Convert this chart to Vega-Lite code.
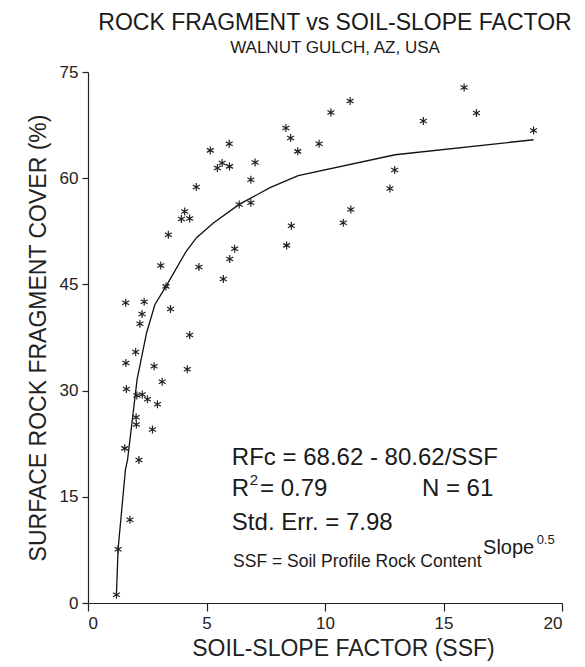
{
  "$schema": "https://vega.github.io/schema/vega-lite/v6.json",
  "width": 474,
  "height": 531,
  "autosize": "none",
  "padding": {"left": 88, "top": 72, "right": 23, "bottom": 64},
  "background": "white",
  "config": {
    "view": {"stroke": null},
    "font": "Liberation Sans",
    "axis": {"grid": false, "domainColor": "#222", "tickColor": "#222", "labelColor": "#222", "titleColor": "#222", "labelFont": "Liberation Sans", "titleFont": "Liberation Sans", "titleFontWeight": "normal", "domainWidth": 1.2, "tickWidth": 1.2}
  },
  "title": {
    "text": "ROCK FRAGMENT vs SOIL-SLOPE FACTOR",
    "subtitle": "WALNUT GULCH, AZ, USA",
    "font": "Liberation Sans",
    "subtitleFont": "Liberation Sans",
    "fontSize": 23,
    "subtitleFontSize": 17,
    "fontWeight": "normal",
    "color": "#1a1a1a",
    "subtitleColor": "#1a1a1a",
    "anchor": "middle",
    "dx": 10,
    "offset": 7,
    "subtitlePadding": 5
  },
  "datasets": {
    "obs": [
      {"ssf": 5.96, "rfc": 64.87}, {"ssf": 5.16, "rfc": 63.93}, {"ssf": 5.66, "rfc": 62.15}, {"ssf": 5.46, "rfc": 61.44},
      {"ssf": 5.97, "rfc": 61.67}, {"ssf": 7.05, "rfc": 62.23}, {"ssf": 6.87, "rfc": 59.79}, {"ssf": 4.57, "rfc": 58.76},
      {"ssf": 6.38, "rfc": 56.3}, {"ssf": 6.87, "rfc": 56.54}, {"ssf": 4.08, "rfc": 55.31}, {"ssf": 3.94, "rfc": 54.24},
      {"ssf": 4.29, "rfc": 54.31}, {"ssf": 3.39, "rfc": 52.02}, {"ssf": 6.19, "rfc": 50.04}, {"ssf": 5.98, "rfc": 48.59},
      {"ssf": 3.07, "rfc": 47.68}, {"ssf": 4.68, "rfc": 47.46}, {"ssf": 5.71, "rfc": 45.76}, {"ssf": 3.29, "rfc": 44.72},
      {"ssf": 1.59, "rfc": 42.42}, {"ssf": 2.37, "rfc": 42.56}, {"ssf": 2.28, "rfc": 40.83}, {"ssf": 3.48, "rfc": 41.53},
      {"ssf": 2.19, "rfc": 39.45}, {"ssf": 4.29, "rfc": 37.85}, {"ssf": 2.01, "rfc": 35.45}, {"ssf": 1.6, "rfc": 33.91},
      {"ssf": 2.79, "rfc": 33.45}, {"ssf": 4.19, "rfc": 33.02}, {"ssf": 3.13, "rfc": 31.26}, {"ssf": 1.62, "rfc": 30.24},
      {"ssf": 2.06, "rfc": 29.31}, {"ssf": 2.29, "rfc": 29.45}, {"ssf": 2.51, "rfc": 28.77}, {"ssf": 2.93, "rfc": 28.08},
      {"ssf": 2.03, "rfc": 26.24}, {"ssf": 2.04, "rfc": 25.21}, {"ssf": 2.72, "rfc": 24.51}, {"ssf": 1.55, "rfc": 21.84},
      {"ssf": 2.15, "rfc": 20.2}, {"ssf": 1.77, "rfc": 11.77}, {"ssf": 1.27, "rfc": 7.6}, {"ssf": 1.2, "rfc": 1.17},
      {"ssf": 15.87, "rfc": 72.82}, {"ssf": 16.39, "rfc": 69.21}, {"ssf": 14.15, "rfc": 68.08}, {"ssf": 18.8, "rfc": 66.75},
      {"ssf": 11.06, "rfc": 70.9}, {"ssf": 10.25, "rfc": 69.29}, {"ssf": 8.35, "rfc": 67.09}, {"ssf": 8.55, "rfc": 65.68},
      {"ssf": 8.85, "rfc": 63.79}, {"ssf": 9.75, "rfc": 64.87}, {"ssf": 12.94, "rfc": 61.16}, {"ssf": 12.74, "rfc": 58.56},
      {"ssf": 11.09, "rfc": 55.59}, {"ssf": 10.77, "rfc": 53.72}, {"ssf": 8.58, "rfc": 53.29}, {"ssf": 8.38, "rfc": 50.51}
    ],
    "fit": [
      {"ssf": 1.2, "rfc": 1.17}, {"ssf": 1.27, "rfc": 7.63}, {"ssf": 1.58, "rfc": 18.83}, {"ssf": 1.67, "rfc": 20.24},
      {"ssf": 1.98, "rfc": 28.95}, {"ssf": 2.07, "rfc": 31.54}, {"ssf": 2.47, "rfc": 38.14}, {"ssf": 2.82, "rfc": 42.13},
      {"ssf": 3.29, "rfc": 44.72}, {"ssf": 4.13, "rfc": 49.6}, {"ssf": 4.58, "rfc": 51.6}, {"ssf": 5.29, "rfc": 53.67},
      {"ssf": 6.38, "rfc": 56.3}, {"ssf": 7.68, "rfc": 58.66}, {"ssf": 8.87, "rfc": 60.35}, {"ssf": 12.96, "rfc": 63.31},
      {"ssf": 18.8, "rfc": 65.43}
    ]
  },
  "layer": [
    {
      "data": {"name": "fit"},
      "mark": {"type": "line", "color": "#111", "strokeWidth": 1.3},
      "encoding": {
        "x": {"field": "ssf", "type": "quantitative", "scale": {"domain": [0, 20], "nice": false},
              "axis": {"values": [0, 5, 10, 15, 20], "tickSize": 8, "labelFontSize": 17, "labelPadding": 4, "titleFontSize": 23, "titlePadding": 6, "titleX": 255},
              "title": "SOIL-SLOPE FACTOR (SSF)"},
        "y": {"field": "rfc", "type": "quantitative", "scale": {"domain": [0, 75], "nice": false},
              "axis": {"values": [0, 15, 30, 45, 60, 75], "tickSize": 6, "labelFontSize": 17, "labelPadding": 4, "titleFontSize": 23, "titlePadding": 9},
              "title": "SURFACE ROCK FRAGMENT COVER (%)"},
        "order": {"field": "ssf"}
      }
    },
    {
      "data": {"name": "obs"},
      "mark": {"type": "point", "shape": "M0,-1L0,1M-0.87,-0.5L0.87,0.5M-0.87,0.5L0.87,-0.5", "filled": false, "stroke": "#222", "strokeWidth": 1.2, "size": 64, "opacity": 1},
      "encoding": {
        "x": {"field": "ssf", "type": "quantitative"},
        "y": {"field": "rfc", "type": "quantitative"}
      }
    },
    {
      "data": {"values": [{}]},
      "mark": {"type": "text", "text": "RFc = 68.62 - 80.62/SSF", "align": "left", "baseline": "alphabetic", "fontSize": 24, "color": "#1a1a1a"},
      "encoding": {"x": {"datum": 6.07, "type": "quantitative"}, "y": {"datum": 19.53, "type": "quantitative"}}
    },
    {
      "data": {"values": [{}]},
      "mark": {"type": "text", "text": "R", "align": "left", "baseline": "alphabetic", "fontSize": 24, "color": "#1a1a1a"},
      "encoding": {"x": {"datum": 6.07, "type": "quantitative"}, "y": {"datum": 15.16, "type": "quantitative"}}
    },
    {
      "data": {"values": [{}]},
      "mark": {"type": "text", "text": "2", "align": "left", "baseline": "alphabetic", "fontSize": 15, "color": "#1a1a1a"},
      "encoding": {"x": {"datum": 6.83, "type": "quantitative"}, "y": {"datum": 16.7, "type": "quantitative"}}
    },
    {
      "data": {"values": [{}]},
      "mark": {"type": "text", "text": "= 0.79", "align": "left", "baseline": "alphabetic", "fontSize": 24, "color": "#1a1a1a"},
      "encoding": {"x": {"datum": 7.26, "type": "quantitative"}, "y": {"datum": 15.16, "type": "quantitative"}}
    },
    {
      "data": {"values": [{}]},
      "mark": {"type": "text", "text": "N = 61", "align": "left", "baseline": "alphabetic", "fontSize": 24, "color": "#1a1a1a"},
      "encoding": {"x": {"datum": 14.09, "type": "quantitative"}, "y": {"datum": 15.16, "type": "quantitative"}}
    },
    {
      "data": {"values": [{}]},
      "mark": {"type": "text", "text": "Std. Err. = 7.98", "align": "left", "baseline": "alphabetic", "fontSize": 24, "color": "#1a1a1a"},
      "encoding": {"x": {"datum": 6.07, "type": "quantitative"}, "y": {"datum": 10.35, "type": "quantitative"}}
    },
    {
      "data": {"values": [{}]},
      "mark": {"type": "text", "text": "SSF = Soil Profile Rock Content", "align": "left", "baseline": "alphabetic", "fontSize": 17.5, "color": "#1a1a1a"},
      "encoding": {"x": {"datum": 6.12, "type": "quantitative"}, "y": {"datum": 5.13, "type": "quantitative"}}
    },
    {
      "data": {"values": [{}]},
      "mark": {"type": "text", "text": "Slope", "align": "left", "baseline": "alphabetic", "fontSize": 20, "color": "#1a1a1a"},
      "encoding": {"x": {"datum": 16.67, "type": "quantitative"}, "y": {"datum": 6.96, "type": "quantitative"}}
    },
    {
      "data": {"values": [{}]},
      "mark": {"type": "text", "text": "0.5", "align": "left", "baseline": "alphabetic", "fontSize": 13, "color": "#1a1a1a"},
      "encoding": {"x": {"datum": 18.93, "type": "quantitative"}, "y": {"datum": 8.4, "type": "quantitative"}}
    }
  ]
}
